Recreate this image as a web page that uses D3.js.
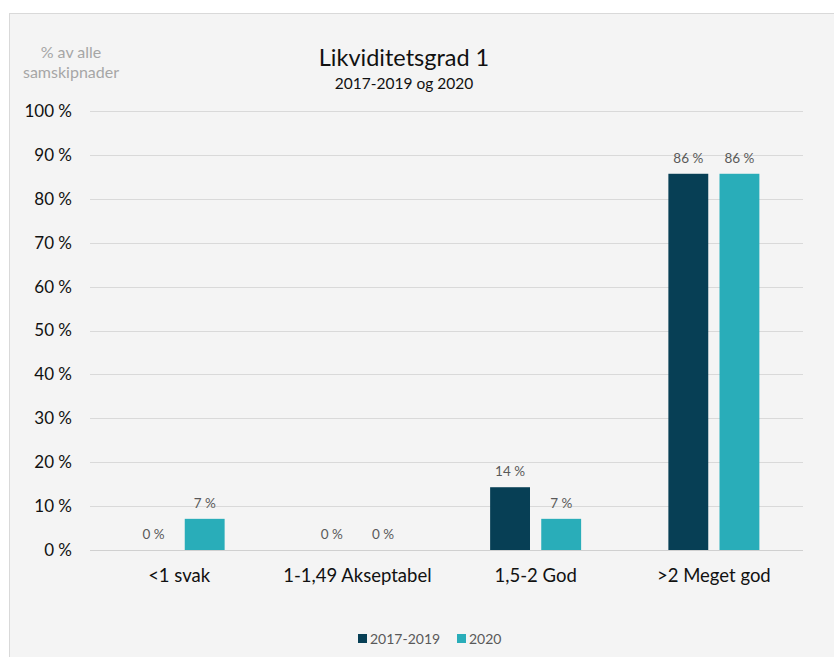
<!DOCTYPE html>
<html><head><meta charset="utf-8">
<script src="https://cdn.jsdelivr.net/npm/d3@7"></script>
<style>body{margin:0;background:#fff;} svg{display:block;font-family:Lato, "Open Sans", sans-serif;}</style>
</head><body>
<svg id="c" width="834" height="657"></svg>
<script>
const categories = ["<1 svak", "1-1,49 Akseptabel", "1,5-2 God", ">2 Meget god"];
const seriesNames = ["2017-2019", "2020"];
const values2017_2019 = [0, 0, 14.3, 85.7];
const values2020 = [7.1, 0, 7.1, 85.7];
const yTicks = [0,10,20,30,40,50,60,70,80,90,100];
const colors = ["#073f55", "#29adb9"];

const svg = d3.select("#c");
svg.append("rect").attr("x",9.5).attr("y",13.5).attr("width",830).attr("height",650)
  .attr("fill","#f4f4f4").attr("stroke","#d9d9d9");

const x0 = d3.scaleBand().domain(categories).range([90, 803]).paddingInner(0).paddingOuter(0);
const groupW = 91;
const x1 = d3.scaleBand().domain(seriesNames).range([0, groupW]).paddingInner(0.22);
const y = d3.scaleLinear().domain([0,100]).range([550, 111]);

// gridlines
svg.append("g").selectAll("line").data(yTicks).join("line")
  .attr("x1",90).attr("x2",803).attr("y1",d=>Math.round(y(d))+0.5).attr("y2",d=>Math.round(y(d))+0.5)
  .attr("stroke",d=>d===0?"#d0d0d0":"#d9d9d9").attr("stroke-width",1);

// y axis labels
const yAxis = d3.axisLeft(y).tickValues(yTicks).tickFormat(d=>d+" %").tickSize(0).tickPadding(0);
const ya = svg.append("g").attr("transform","translate(72,0)").call(yAxis);
ya.select(".domain").remove();
ya.selectAll("text").attr("font-size",17).attr("fill","#111").attr("font-family","Lato, sans-serif");

// x axis labels
const xa = svg.append("g").attr("transform","translate(0,550)").call(d3.axisBottom(x0).tickSize(0).tickPadding(19));
xa.select(".domain").remove();
xa.selectAll("text").attr("font-size",18.5).attr("fill","#111").attr("font-family","Lato, sans-serif");

const data = categories.map((c,i)=>({cat:c, vals:[{s:seriesNames[0],v:values2017_2019[i]},{s:seriesNames[1],v:values2020[i]}]}));
const g = svg.append("g").selectAll("g").data(data).join("g")
  .attr("transform",d=>`translate(${x0(d.cat)+(x0.bandwidth()-groupW)/2},0)`);
g.selectAll("rect").data(d=>d.vals).join("rect")
  .attr("x",d=>x1(d.s)).attr("width",x1.bandwidth())
  .attr("y",d=>y(d.v)).attr("height",d=>y(0)-y(d.v))
  .attr("fill",(d,i)=>colors[i]);
g.selectAll("text").data(d=>d.vals).join("text")
  .attr("x",d=>x1(d.s)+x1.bandwidth()/2).attr("y",d=>y(d.v)-11)
  .attr("text-anchor","middle").attr("font-size",13.5).attr("fill","#595959")
  .text(d=>Math.round(d.v)+" %");

// titles
svg.append("text").attr("x",404).attr("y",66).attr("text-anchor","middle").attr("font-size",23.5).attr("fill","#111").text("Likviditetsgrad 1");
svg.append("text").attr("x",404).attr("y",89).attr("text-anchor","middle").attr("font-size",15.5).attr("fill","#111").text("2017-2019 og 2020");
svg.append("text").attr("x",71).attr("y",58).attr("text-anchor","middle").attr("font-size",16).attr("fill","#a6a6a6").text("% av alle");
svg.append("text").attr("x",71).attr("y",78).attr("text-anchor","middle").attr("font-size",16).attr("fill","#a6a6a6").text("samskipnader");

// legend
const legendX = [358, 457];
const lg = svg.append("g").selectAll("g").data(seriesNames).join("g")
  .attr("transform",(d,i)=>`translate(${legendX[i]},634)`);
lg.append("rect").attr("width",9).attr("height",9).attr("fill",(d,i)=>colors[i]);
lg.append("text").attr("x",12).attr("y",9.5).attr("font-size",14).attr("fill","#595959").text(d=>d);
</script>
</body></html>
